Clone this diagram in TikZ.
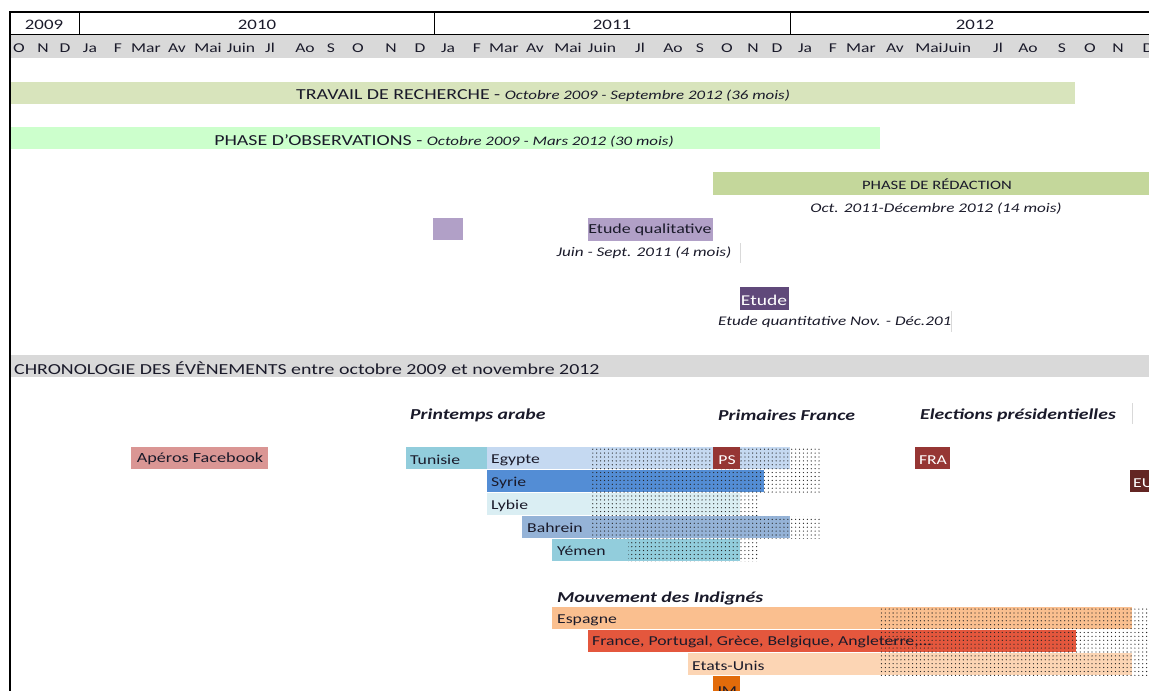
\documentclass[tikz,border=0pt]{standalone}
\usepackage{fontspec}
\setmainfont{Carlito}[FakeStretch=1.3]
\usetikzlibrary{patterns,patterns.meta}
\definecolor{cTravail}{HTML}{D8E4BC}
\definecolor{cObs}{HTML}{CCFFCC}
\definecolor{cRed}{HTML}{C4D79B}
\definecolor{cPurL}{HTML}{B1A0C7}
\definecolor{cPurD}{HTML}{60497A}
\definecolor{cGray}{HTML}{D9D9D9}
\definecolor{cApero}{HTML}{DA9694}
\definecolor{cTun}{HTML}{92CDDC}
\definecolor{cEgy}{HTML}{C5D9F1}
\definecolor{cSyr}{HTML}{538DD5}
\definecolor{cLyb}{HTML}{DAEEF3}
\definecolor{cBah}{HTML}{95B3D7}
\definecolor{cPS}{HTML}{963634}
\definecolor{cEU}{HTML}{632523}
\definecolor{cEsp}{HTML}{FABF8F}
\definecolor{cFra}{HTML}{E4573D}
\definecolor{cUSA}{HTML}{FCD5B4}
\definecolor{cJM}{HTML}{E26B0A}
\definecolor{cTxt}{HTML}{1A1A2A}
\begin{document}
\begin{tikzpicture}[x=1pt,y=-1pt,
  lbl/.style={inner sep=0pt, text=cTxt, yshift=-1.2pt},
  month/.style={lbl, font=\fontsize{13.5}{15}\selectfont},
  year/.style={lbl, font=\fontsize{14.5}{16}\selectfont},
  big/.style={lbl, font=\fontsize{15.3}{17}\selectfont},
  sub/.style={lbl, font=\fontsize{13.2}{15}\selectfont\itshape},
  head/.style={lbl, anchor=west, font=\fontsize{15.2}{17}\selectfont\bfseries\itshape},
  barlbl/.style={lbl, anchor=west, font=\fontsize{13.6}{15}\selectfont},
  wlbl/.style={lbl, text=white, font=\fontsize{13.6}{15}\selectfont},
  dotfill/.style={pattern={Dots[distance=3.9pt,radius=0.65pt]}, pattern color=black!85},
  sep/.style={draw=black!15, line width=0.8pt}
]
\useasboundingbox (0,0) rectangle (1149,691);
% header frame
\fill[cGray] (11,35) rectangle (1149,58);
\draw[line width=0.9pt] (10,34.5) -- (1149,34.5);
\foreach \x in {79,434,790} \draw[line width=0.9pt] (\x,12) -- (\x,34.5);
\draw[line width=2.5pt] (10,691) -- (10,12) -- (1149,12);
% years
\node[year] (y2009) at (44,24) {2009};
\node[year] (y2010) at (257,24) {2010};
\node[year] (y2011) at (612,24) {2011};
\node[year] (y2012) at (975,24) {2012};
% months
\foreach \x/\m [count=\i] in {19/O,43/N,65/D,90/Ja,118/F,146/Mar,177/Av,208/Mai,241/Juin,270/Jl,305/Ao,331/S,358/O,391/N,420/D,448/Ja,477/F,504/Mar,535/Av,568/Mai,602/Juin,640/Jl,673/Ao,700/S,727/O,753/N,777/D,805/Ja,833/F,861/Mar,895/Av,929/Mai,957/Juin,998/Jl,1028/Ao,1062/S,1090/O,1118/N,1148/D}
  \node[month] (m\i) at (\x,47) {\m};
% research bars
\fill[cTravail] (11,82) rectangle (1075,104);
\node[big] (travail) at (543,94) {TRAVAIL DE RECHERCHE - {\fontsize{13}{15}\selectfont\itshape Octobre 2009 - Septembre 2012 (36 mois)}};
\fill[cObs] (11,127) rectangle (880,149);
\node[big] (obs) at (444,140) {PHASE D'OBSERVATIONS - {\fontsize{13}{15}\selectfont\itshape Octobre 2009 - Mars 2012 (30 mois)}};
\fill[cRed] (713,172) rectangle (1149,195);
\node[lbl, font=\fontsize{12.8}{14}\selectfont] (redac) at (937,183) {PHASE DE RÉDACTION};
\node[sub] (redacsub) at (936,207) {Oct. 2011-Décembre 2012 (14 mois)};
\fill[cPurL] (433,218) rectangle (463,240);
\fill[cPurL] (588,218) rectangle (713,241);
\node[lbl, font=\fontsize{13.8}{15}\selectfont] (qual) at (650,229) {Etude qualitative};
\node[sub] (qualsub) at (644,252) {Juin - Sept. 2011 (4 mois)};
\draw[sep] (740,243) -- (740,263);
\fill[cPurD] (740,287) rectangle (789,310);
\node[lbl, text=white, font=\fontsize{15}{16}\selectfont] (quant) at (764,299) {Etude};
\node[sub, anchor=west] (quantsub) at (718,321) {Etude quantitative Nov. - Déc.201};
\draw[sep] (951,311) -- (951,332);
% chronologie
\fill[cGray] (11,355) rectangle (1149,377);
\node[big, anchor=west] (chrono) at (14,367) {CHRONOLOGIE DES ÉVÈNEMENTS entre octobre 2009 et novembre 2012};
\node[head] (printemps) at (410,414) {Printemps arabe};
\node[head] (primaires) at (718,414) {Primaires France};
\node[head] (elections) at (920,414) {Elections présidentielles};
\draw[sep] (1132,403) -- (1132,424);
% events
\fill[cApero] (131,447) rectangle (268,469);
\node[lbl, font=\fontsize{14}{15}\selectfont] (apero) at (200,458) {Apéros Facebook};
\fill[cTun] (406,447) rectangle (487,469);
\node[barlbl] (tun) at (410,459) {Tunisie};
\fill[cEgy] (487,447) rectangle (790,469);
\fill[dotfill] (592,447) rectangle (820,469);
\node[barlbl] (egy) at (491,459) {Egypte};
\fill[cSyr] (487,470) rectangle (764,492);
\fill[dotfill] (592,470) rectangle (820,492);
\node[barlbl] (syr) at (491,482) {Syrie};
\fill[cLyb] (487,493) rectangle (740,515);
\fill[dotfill] (592,493) rectangle (759,515);
\node[barlbl] (lyb) at (491,505) {Lybie};
\fill[cBah] (522,516) rectangle (790,538);
\fill[dotfill] (592,516) rectangle (820,538);
\node[barlbl] (bah) at (527,527) {Bahrein};
\fill[cTun] (552,539) rectangle (740,561);
\fill[dotfill] (628,539) rectangle (759,561);
\node[barlbl] (yem) at (557,550) {Yémen};
\fill[cPS] (713,447) rectangle (740,469);
\node[wlbl] (ps) at (727,459) {PS};
\fill[cPS] (915,447) rectangle (950,469);
\node[wlbl] (fra) at (933,459) {FRA};
\fill[cEU] (1130,470) rectangle (1149,492);
\node[wlbl, anchor=west] (eu) at (1133,482) {EU};
% indignes
\node[head] (indignes) at (557,597) {Mouvement des Indignés};
\fill[cEsp] (552,607) rectangle (1132,629);
\fill[dotfill] (880,607) rectangle (1149,629);
\node[barlbl] (esp) at (557,619) {Espagne};
\fill[cFra] (588,630) rectangle (1076,652);
\fill[dotfill] (880,630) rectangle (1149,652);
\node[barlbl] (fpg) at (592,641) {France, Portugal, Grèce, Belgique, Angleterre,...};
\fill[cUSA] (688,653) rectangle (1132,675);
\fill[dotfill] (880,653) rectangle (1149,675);
\node[barlbl] (usa) at (692,665) {Etats-Unis};
\fill[cJM] (713,676) rectangle (740,695);
\node[barlbl, anchor=base west] (jm) at (716,694) {JM};
\end{tikzpicture}
\end{document}
